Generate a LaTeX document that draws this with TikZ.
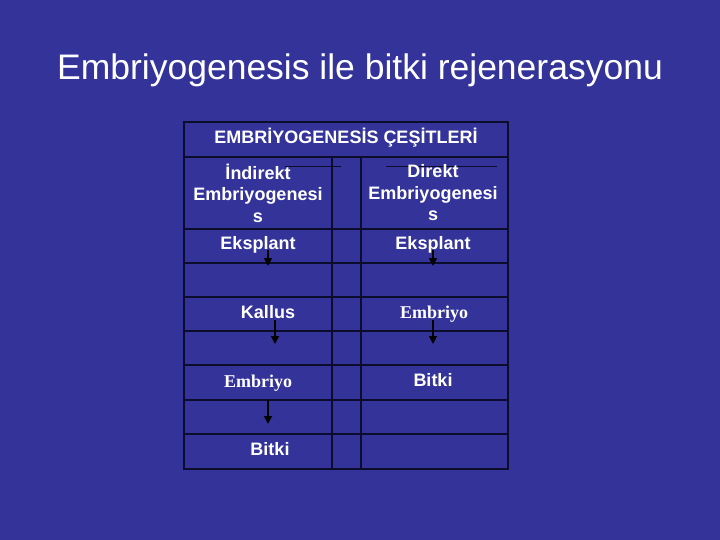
\documentclass[tikz,border=0pt]{standalone}
\usepackage{fontspec}
\setmainfont{Liberation Sans}
\newfontfamily\serifcell{Liberation Serif}
\usetikzlibrary{arrows.meta}
\definecolor{slidebg}{RGB}{51,51,153}
\definecolor{gridline}{RGB}{12,12,45}

\begin{document}
\begin{tikzpicture}[x=1pt,y=-1pt,
    cell/.style={text=white, font=\bfseries\fontsize{18}{21.5}\selectfont, align=center, inner sep=0pt},
    serifbox/.style={text=white, font=\serifcell\bfseries\fontsize{18}{20}\selectfont, inner sep=0pt},
    flow/.style={line width=1.8pt, black, -{Triangle[length=8pt,width=8pt]}}]
        \fill[slidebg] (0,0) rectangle (720,540);
        \useasboundingbox (0,0) rectangle (720,540);
        \node[text=white, font=\fontsize{35.5}{40}\selectfont, anchor=base] (title) at (360,80) {Embriyogenesis ile bitki rejenerasyonu};

        \draw[gridline, line width=1.5pt] (184,122) rectangle (508,469);
        \foreach \y in {157,229,263,297,331,365,400,434}
            \draw[gridline, line width=1.2pt] (184,\y) -- (508,\y);
        \draw[gridline, line width=1.2pt] (332,157) -- (332,469);
        \draw[gridline, line width=1.2pt] (361,157) -- (361,469);
        \draw[gridline, line width=1pt] (285,167) -- (341,167);
        \draw[gridline, line width=1pt] (386,167) -- (497,167);

        \node[cell, anchor=base] (head) at (346,144) {EMBR\.IYOGENES\.IS \c{C}E\c{S}\.ITLER\.I};
        \node[cell] (indir) at (258,193) {\.Indirekt\\Embriyogenesi\\s};
        \node[cell] (dir) at (433,193) {Direkt\\Embriyogenesi\\s};
        \node[cell, anchor=base] (eksL) at (258,249) {Eksplant};
        \node[cell, anchor=base] (eksR) at (433,249) {Eksplant};
        \node[cell, anchor=base] (kallus) at (268,318) {Kallus};
        \node[serifbox, anchor=base] (embR) at (434,318) {Embriyo};
        \node[serifbox, anchor=base] (embL) at (258,387) {Embriyo};
        \node[cell, anchor=base] (bitkiR) at (433,386) {Bitki};
        \node[cell, anchor=base] (bitkiL) at (270,455) {Bitki};

        \coordinate (a1) at (268,266);
        \coordinate (a2) at (433,266);
        \coordinate (a3) at (275,344);
        \coordinate (a4) at (433,344);
        \coordinate (a5) at (268,424);
        \draw[flow] (268,250) -- (a1);
        \draw[flow] (433,250) -- (a2);
        \draw[flow] (275,320) -- (a3);
        \draw[flow] (433,320) -- (a4);
        \draw[flow] (268,400) -- (a5);
    \end{tikzpicture}
\end{document}
